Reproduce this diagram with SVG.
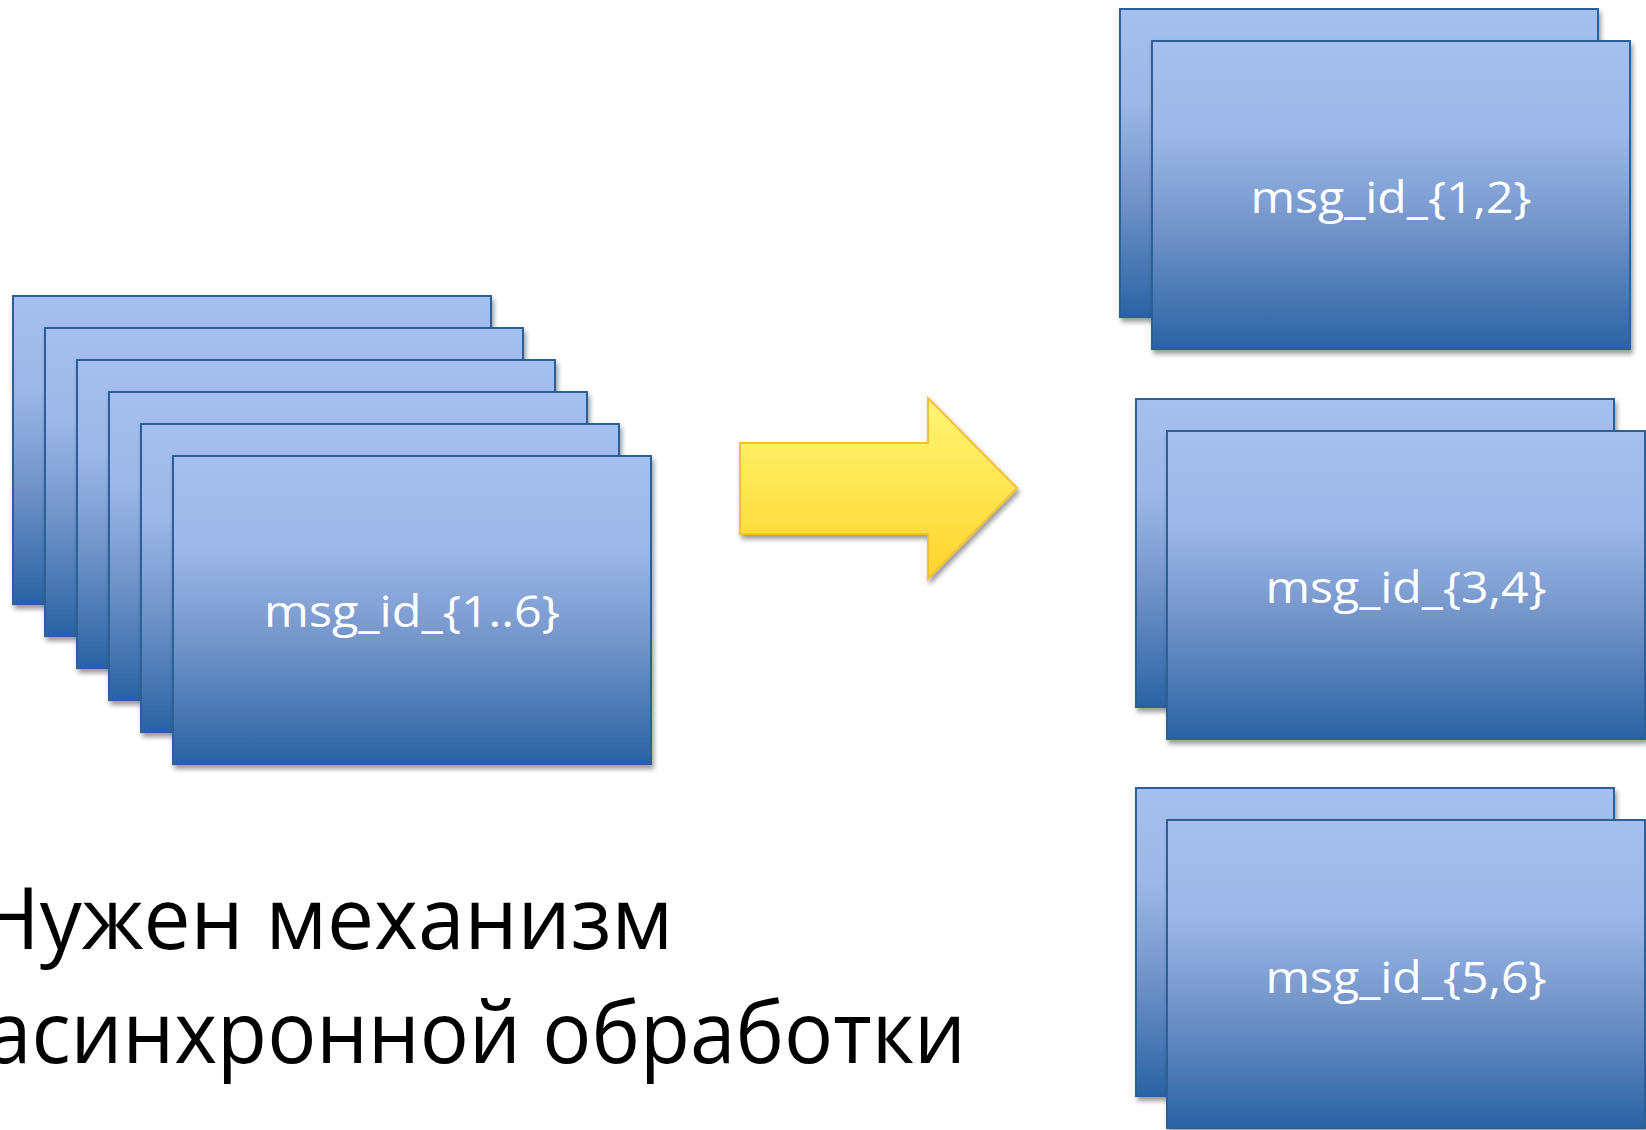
<svg xmlns="http://www.w3.org/2000/svg" width="1646" height="1130" viewBox="0 0 1646 1130">
  <defs>
    <linearGradient id="cardFill" x1="0" y1="0" x2="0" y2="1">
      <stop offset="0" stop-color="#A5C0EE"/>
      <stop offset="0.3" stop-color="#9DB8E8"/>
      <stop offset="0.6" stop-color="#7495CA"/>
      <stop offset="1" stop-color="#2A63A3"/>
    </linearGradient>
    <linearGradient id="arrowFill" x1="0" y1="0" x2="0" y2="1">
      <stop offset="0" stop-color="#FFF676"/>
      <stop offset="1" stop-color="#FFD42C"/>
    </linearGradient>
    <filter id="shadow" x="-5%" y="-5%" width="115%" height="120%">
      <feGaussianBlur in="SourceAlpha" stdDeviation="2.5"/>
      <feOffset dx="2" dy="4" result="blur"/>
      <feComponentTransfer><feFuncA type="linear" slope="0.4"/></feComponentTransfer>
      <feMerge><feMergeNode/><feMergeNode in="SourceGraphic"/></feMerge>
    </filter>
  </defs>
  <style>
    .card { fill: url(#cardFill); stroke: #2F6098; stroke-width: 2; filter: url(#shadow); }
    .label { font-family: "Open Sans", "Noto Sans", "Liberation Sans", sans-serif; font-size: 43px; fill: #FFFFFF; text-anchor: middle; }
    .caption { font-family: "Open Sans", "Noto Sans", "Liberation Sans", sans-serif; font-size: 86px; fill: #000000; text-anchor: end; }
    .arrow { fill: url(#arrowFill); stroke: #F4BF36; stroke-width: 2; filter: url(#shadow); }
  </style>

  <!-- incoming batch: six stacked messages -->
  <g id="batch-all">
    <rect class="card" x="13" y="296" width="478" height="308"/>
    <rect class="card" x="45" y="328" width="478" height="308"/>
    <rect class="card" x="77" y="360" width="478" height="308"/>
    <rect class="card" x="109" y="392" width="478" height="308"/>
    <rect class="card" x="141" y="424" width="478" height="308"/>
    <rect class="card" x="173" y="456" width="478" height="308"/>
    <text class="label" x="412" y="627" textLength="296" lengthAdjust="spacingAndGlyphs">msg_id_{1..6}</text>
  </g>

  <!-- split batches -->
  <g id="batch-1-2">
    <rect class="card" x="1120" y="9" width="478" height="308"/>
    <rect class="card" x="1152" y="41" width="478" height="308"/>
    <text class="label" x="1391" y="213" textLength="281" lengthAdjust="spacingAndGlyphs">msg_id_{1,2}</text>
  </g>
  <g id="batch-3-4">
    <rect class="card" x="1136" y="399" width="478" height="308"/>
    <rect class="card" x="1167" y="431" width="478" height="308"/>
    <text class="label" x="1406" y="603" textLength="281" lengthAdjust="spacingAndGlyphs">msg_id_{3,4}</text>
  </g>
  <g id="batch-5-6">
    <rect class="card" x="1136" y="788" width="478" height="308"/>
    <rect class="card" x="1167" y="820" width="478" height="308"/>
    <text class="label" x="1406" y="993" textLength="281" lengthAdjust="spacingAndGlyphs">msg_id_{5,6}</text>
  </g>

  <!-- block arrow from the batch to the split batches -->
  <g id="connectors">
    <polygon class="arrow" points="740,443 928,443 928,398 1017,488 928,579 928,534 740,534"/>
  </g>

  <!-- caption -->
  <g id="caption">
    <text class="caption" x="673" y="949" textLength="695" lengthAdjust="spacingAndGlyphs">Нужен механизм</text>
    <text class="caption" x="966" y="1063" textLength="980" lengthAdjust="spacingAndGlyphs">асинхронной обработки</text>
  </g>
</svg>
